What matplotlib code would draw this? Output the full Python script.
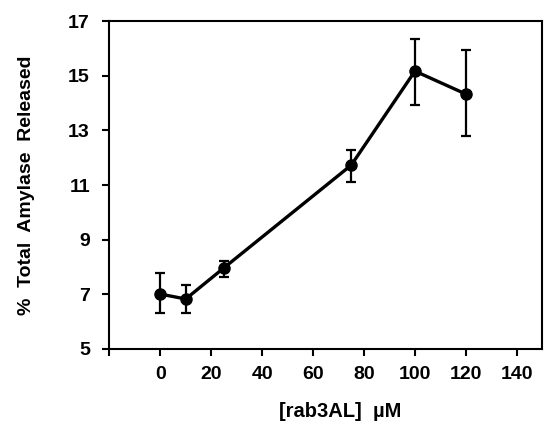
import numpy as np
import matplotlib
matplotlib.use("Agg")
import matplotlib.pyplot as plt

# data
conc = [0, 10, 25, 75, 100, 120]
release = [7.01, 6.83, 7.97, 11.73, 15.17, 14.33]
err_low = [6.30, 6.30, 7.64, 11.12, 13.92, 12.80]
err_high = [7.77, 7.34, 8.23, 12.29, 16.35, 15.95]

xticks = [-20, 0, 20, 40, 60, 80, 100, 120, 140]
xticklabels = ['', '0', '20', '40', '60', '80', '100', '120', '140']
yticks = [5, 7, 9, 11, 13, 15, 17]

plt.rcParams['font.family'] = ['Liberation Sans', 'DejaVu Sans']
plt.rcParams['font.weight'] = 'bold'

fig = plt.figure(figsize=(5.45, 4.22), dpi=100)
ax = fig.add_axes([0.2006, 0.173, 0.7944, 0.777])

y = np.array(release)
yerr = np.vstack([y - np.array(err_low), np.array(err_high) - y])
ax.errorbar(conc, y, yerr=yerr, fmt='-o', color='black', lw=2.4,
            elinewidth=1.6, capsize=3.5, capthick=1.6, ms=8, mfc='black',
            mec='black', clip_on=False)

ax.set_xlim(-20, 150)
ax.set_ylim(5, 17)
ax.set_xticks(xticks)
ax.set_xticklabels(xticklabels)
ax.set_yticks(yticks)

for s in ax.spines.values():
    s.set_linewidth(1.5)
ax.tick_params(axis='both', direction='out', length=5, width=1.5,
               labelsize=14)
ax.tick_params(axis='x', pad=7)
ax.tick_params(axis='y', pad=9)
for lab in ax.get_xticklabels() + ax.get_yticklabels():
    lab.set_fontweight('bold')

ax.set_xlabel('[rab3AL]  \u00b5M', fontsize=14.5, fontweight='bold')
ax.xaxis.set_label_coords(0.533, -0.162)
ax.set_ylabel('%  Total  Amylase  Released', fontsize=14, fontweight='bold')
ax.yaxis.set_label_coords(-0.172, 0.5)

fig.savefig('out.png', dpi=100)
